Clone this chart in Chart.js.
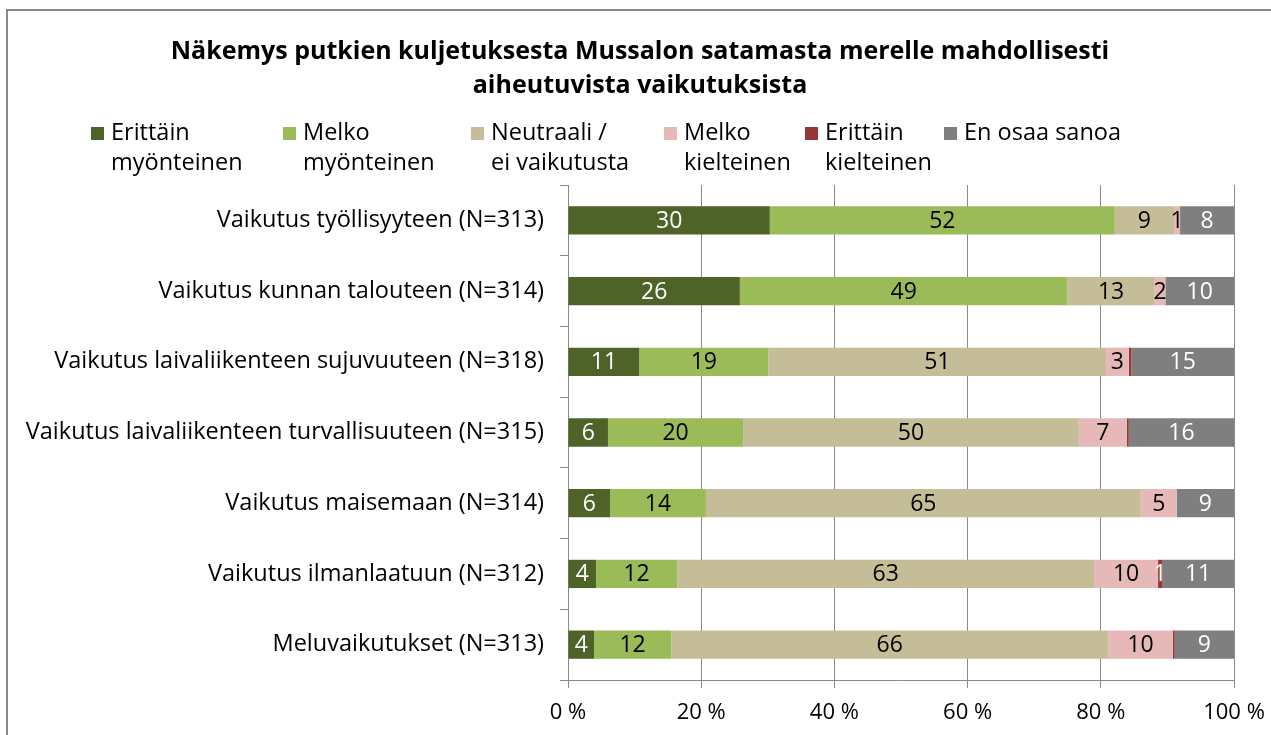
<!DOCTYPE html>
<html lang="fi">
<head>
<meta charset="UTF-8">
<title>Näkemys putkien kuljetuksesta</title>
<script src="https://cdn.jsdelivr.net/npm/chart.js"></script>
<style>
  body { margin: 0; background: #fff; }
  #wrap { width: 1271px; height: 735px; position: relative; }
</style>
</head>
<body>
<div id="wrap"><canvas id="chart" width="1271" height="735"></canvas></div>
<script>
// data (percent of respondents)
const categories = [
  'Vaikutus työllisyyteen (N=313)',
  'Vaikutus kunnan talouteen (N=314)',
  'Vaikutus laivaliikenteen sujuvuuteen (N=318)',
  'Vaikutus laivaliikenteen turvallisuuteen (N=315)',
  'Vaikutus maisemaan (N=314)',
  'Vaikutus ilmanlaatuun (N=312)',
  'Meluvaikutukset (N=313)'
];
const seriesNames = [
  ['Erittäin', 'myönteinen'],
  ['Melko', 'myönteinen'],
  ['Neutraali /', 'ei vaikutusta'],
  ['Melko', 'kielteinen'],
  ['Erittäin', 'kielteinen'],
  ['En osaa sanoa']
];
const erittainMyonteinen = [30.3, 25.8, 10.7, 6.0, 6.3, 4.2, 3.9];
const melkoMyonteinen    = [51.8, 49.2, 19.4, 20.3, 14.4, 12.2, 11.6];
const neutraali          = [8.9, 13.1, 50.7, 50.4, 65.3, 62.6, 65.6];
const melkoKielteinen    = [0.9, 1.6, 3.4, 7.2, 5.4, 9.6, 9.7];
const erittainKielteinen = [0, 0, 0.4, 0.3, 0, 0.6, 0.3];
const enOsaaSanoa        = [8.1, 10.3, 15.4, 15.8, 8.6, 10.8, 8.9];
const xTicks = [0, 20, 40, 60, 80, 100];

const colors = ['#4F6228', '#9BBB59', '#C4BD97', '#E6B9B8', '#953735', '#7F7F7F'];
const labelColors = ['#fff', '#000', '#000', '#000', '#fff', '#fff'];
const FONT = '"Open Sans"';
const gridCol = '#898989';

const allSeries = [erittainMyonteinen, melkoMyonteinen, neutraali, melkoKielteinen, erittainKielteinen, enOsaaSanoa];

const frameTitleLegend = {
  id: 'frameTitleLegend',
  beforeDraw(chart) {
    const ctx = chart.ctx;
    ctx.save();
    ctx.strokeStyle = '#888';
    ctx.lineWidth = 2;
    ctx.strokeRect(7, 10, 1270, 740);
    // title
    ctx.fillStyle = '#000';
    ctx.textAlign = 'center';
    ctx.textBaseline = 'middle';
    ctx.font = 'bold 25px ' + FONT;
    ctx.fillText('Näkemys putkien kuljetuksesta Mussalon satamasta merelle mahdollisesti', 640, 52);
    ctx.fillText('aiheutuvista vaikutuksista', 640, 86);
    // legend
    const boxX = [91, 283, 471, 664, 805, 944];
    ctx.font = '23.5px ' + FONT;
    ctx.textAlign = 'left';
    seriesNames.forEach((lines, i) => {
      ctx.fillStyle = colors[i];
      ctx.fillRect(boxX[i], 127, 13, 13);
      ctx.fillStyle = '#000';
      lines.forEach((t, j) => ctx.fillText(t, boxX[i] + 20, 133 + j * 30));
    });
    ctx.restore();
  }
};

const barLabels = {
  id: 'barLabels',
  afterDatasetsDraw(chart) {
    const ctx = chart.ctx;
    ctx.save();
    ctx.font = '23px ' + FONT;
    ctx.textAlign = 'center';
    ctx.textBaseline = 'middle';
    chart.data.datasets.forEach((ds, i) => {
      chart.getDatasetMeta(i).data.forEach((bar, j) => {
        const v = Math.round(ds.data[j]);
        if (!v) return;
        const p = bar.getProps(['x', 'y', 'base']);
        ctx.fillStyle = labelColors[i];
        ctx.fillText(String(v), (p.x + p.base) / 2, p.y + 1);
      });
    });
    ctx.restore();
  }
};

new Chart(document.getElementById('chart'), {
  type: 'bar',
  data: {
    labels: categories,
    datasets: allSeries.map((d, i) => ({
      label: seriesNames[i].join(' '),
      data: d,
      backgroundColor: colors[i],
      borderWidth: 0,
      barPercentage: 0.4,
      categoryPercentage: 1
    }))
  },
  options: {
    indexAxis: 'y',
    responsive: false,
    animation: false,
    layout: { padding: { top: 185, right: 37, left: 0, bottom: 0 } },
    plugins: { legend: { display: false }, title: { display: false }, tooltip: { enabled: false } },
    scales: {
      x: {
        stacked: true, min: 0, max: 100,
        afterBuildTicks(scale) { scale.ticks = xTicks.map(v => ({ value: v })); },
        afterFit(scale) { scale.height = 55; scale.paddingLeft = 0; scale.paddingRight = 0; },
        ticks: { color: '#000', font: { family: 'Open Sans', size: 22 }, padding: 12, callback: v => v + ' %', maxRotation: 0 },
        grid: { color: gridCol, tickLength: 8, lineWidth: 1 },
        border: { color: gridCol, width: 1 }
      },
      y: {
        stacked: true,
        afterFit(scale) { scale.width = 568; scale.paddingTop = 0; scale.paddingBottom = 0; },
        ticks: { color: '#000', font: { family: 'Open Sans', size: 23.5 }, padding: 16 },
        grid: { drawOnChartArea: false, offset: true, color: gridCol, tickLength: 8 },
        border: { color: gridCol, width: 1 }
      }
    }
  },
  plugins: [frameTitleLegend, barLabels]
});
</script>
</body>
</html>
